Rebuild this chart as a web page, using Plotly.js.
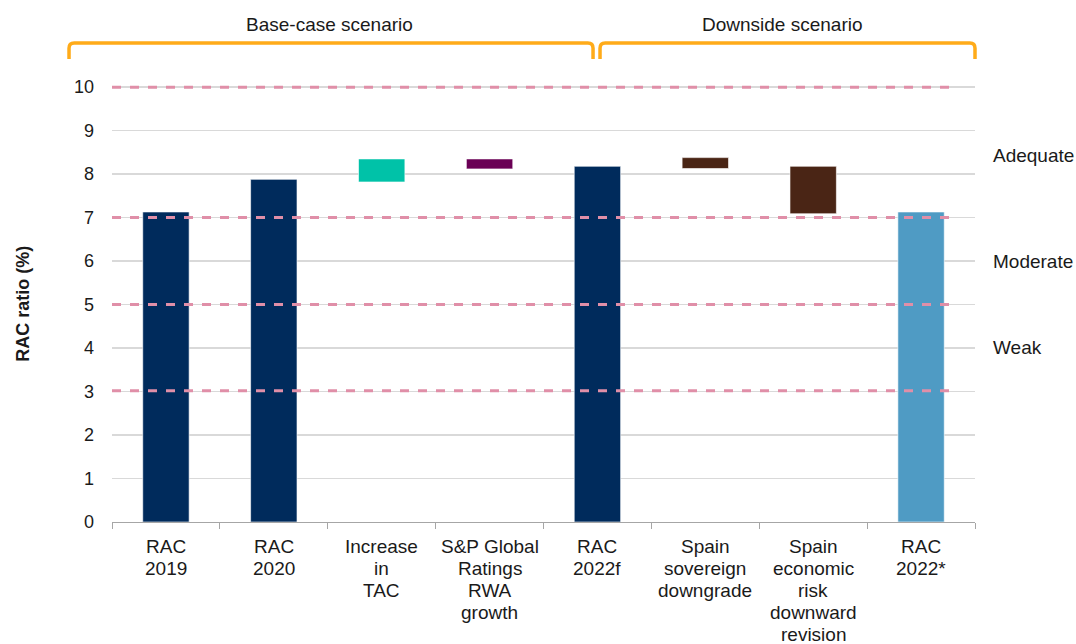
<!DOCTYPE html>
<html>
<head>
<meta charset="utf-8">
<script src="https://cdn.plot.ly/plotly-3.0.1.min.js"></script>
<style>html,body{margin:0;padding:0;background:#fff;}#chart{width:1076px;height:644px;}</style>
</head>
<body>
<div id="chart"></div>
<script>
// ---- data ----
const categories = ["RAC 2019", "RAC 2020", "Increase in TAC", "S&P Global Ratings RWA growth", "RAC 2022f", "Spain sovereign downgrade", "Spain economic risk downward revision", "RAC 2022*"];
const tickLabelLines = [
  ["RAC", "2019"],
  ["RAC", "2020"],
  ["Increase", "in", "TAC"],
  ["S&P Global", "Ratings", "RWA", "growth"],
  ["RAC", "2022f"],
  ["Spain", "sovereign", "downgrade"],
  ["Spain", "economic", "risk", "downward", "revision"],
  ["RAC", "2022*"]
];
const barLow  = [0, 0, 7.82, 8.12, 0, 8.13, 7.09, 0];
const barHigh = [7.13, 7.88, 8.35, 8.35, 8.18, 8.38, 8.18, 7.13];
const thresholds = [10, 7, 5, 3.02];
const bandLabels = ["Adequate", "Moderate", "Weak"];
const bandLabelY = [8.44, 6.0, 4.02];
const scenarios = ["Base-case scenario", "Downside scenario"];
const yTicks = [0, 1, 2, 3, 4, 5, 6, 7, 8, 9, 10];

// ---- styles ----
const barColors = ["#002b5c", "#002b5c", "#00c2a8", "#6a0055", "#002b5c", "#4a2515", "#4a2515", "#4f9bc4"];
const FAM = "Liberation Sans, Arial, sans-serif";
const TXT = "#1a1a1a";
const font19 = {family: FAM, size: 19, color: TXT};
const font18 = {family: FAM, size: 18, color: TXT};

const trace = {
  type: "bar",
  x: categories,
  base: barLow,
  y: barHigh.map((h, i) => h - barLow[i]),
  width: 0.43,
  marker: {color: barColors, line: {color: "rgba(255,255,255,0.6)", width: 1}},
  hoverinfo: "skip"
};

const shapes = thresholds.map(v => ({
  type: "line", xref: "paper", yref: "y", x0: 0, x1: 0.979, y0: v, y1: v,
  line: {color: "#e08fa8", width: 3, dash: "dash"}, layer: "above"
}));

function bracket(x0, x1, yTop, yBot) {
  const r = 0.006, ry = 0.012;
  return {
    type: "path", xref: "paper", yref: "paper", layer: "above",
    path: `M ${x0} ${yBot} L ${x0} ${yTop - ry} Q ${x0} ${yTop} ${x0 + r} ${yTop} L ${x1 - r} ${yTop} Q ${x1} ${yTop} ${x1} ${yTop - ry} L ${x1} ${yBot}`,
    line: {color: "#ffab19", width: 3.5}
  };
}
// paper height now 437px (range 0..10.05)
shapes.push(bracket(-0.0498, 0.5574, 1.0961, 1.0595));
shapes.push(bracket(0.5655, 1.0, 1.0961, 1.0595));

const annotations = [
  {text: scenarios[0], xref: "paper", yref: "paper", x: 0.2526, y: 1.1373, showarrow: false, font: font19, xanchor: "center", yanchor: "middle"},
  {text: scenarios[1], xref: "paper", yref: "paper", x: 0.7775, y: 1.1373, showarrow: false, font: font19, xanchor: "center", yanchor: "middle"}
];
bandLabels.forEach((t, i) => annotations.push({
  text: t, xref: "paper", yref: "y", x: 1.0185, y: bandLabelY[i], showarrow: false,
  font: font19, xanchor: "left", yanchor: "middle"
}));
annotations.push({
  text: "<b>RAC ratio (%)</b>", xref: "paper", yref: "paper", x: -0.104, y: 0.5,
  textangle: -90, showarrow: false, font: font18, xanchor: "center", yanchor: "middle"
});
// category labels, one line each for tighter line spacing
tickLabelLines.forEach((lines, ci) => {
  lines.forEach((ln, li) => annotations.push({
    text: ln, xref: "x", yref: "paper", x: categories[ci], y: 0,
    yanchor: "middle", xanchor: "center", yshift: -(24 + 22 * li),
    showarrow: false, font: font19
  }));
});

const layout = {
  width: 1076, height: 644,
  margin: {l: 112, r: 101, t: 85, b: 122},
  paper_bgcolor: "#fff", plot_bgcolor: "#fff",
  font: font18,
  showlegend: false,
  xaxis: {
    type: "category", tickvals: categories, showticklabels: false,
    showline: true, linecolor: "#a6a6a6", linewidth: 1,
    ticks: "outside", tickson: "boundaries", ticklen: 6, tickcolor: "#a6a6a6",
    showgrid: false, fixedrange: true
  },
  yaxis: {
    range: [0, 10.05], tickvals: yTicks,
    showgrid: true, gridcolor: "#d9d9d9", gridwidth: 1.5,
    zeroline: false, showline: false, ticks: "", ticklabelstandoff: 17,
    tickfont: font18, fixedrange: true
  },
  shapes: shapes,
  annotations: annotations
};

Plotly.newPlot("chart", [trace], layout, {displayModeBar: false, staticPlot: true});
</script>
</body>
</html>
